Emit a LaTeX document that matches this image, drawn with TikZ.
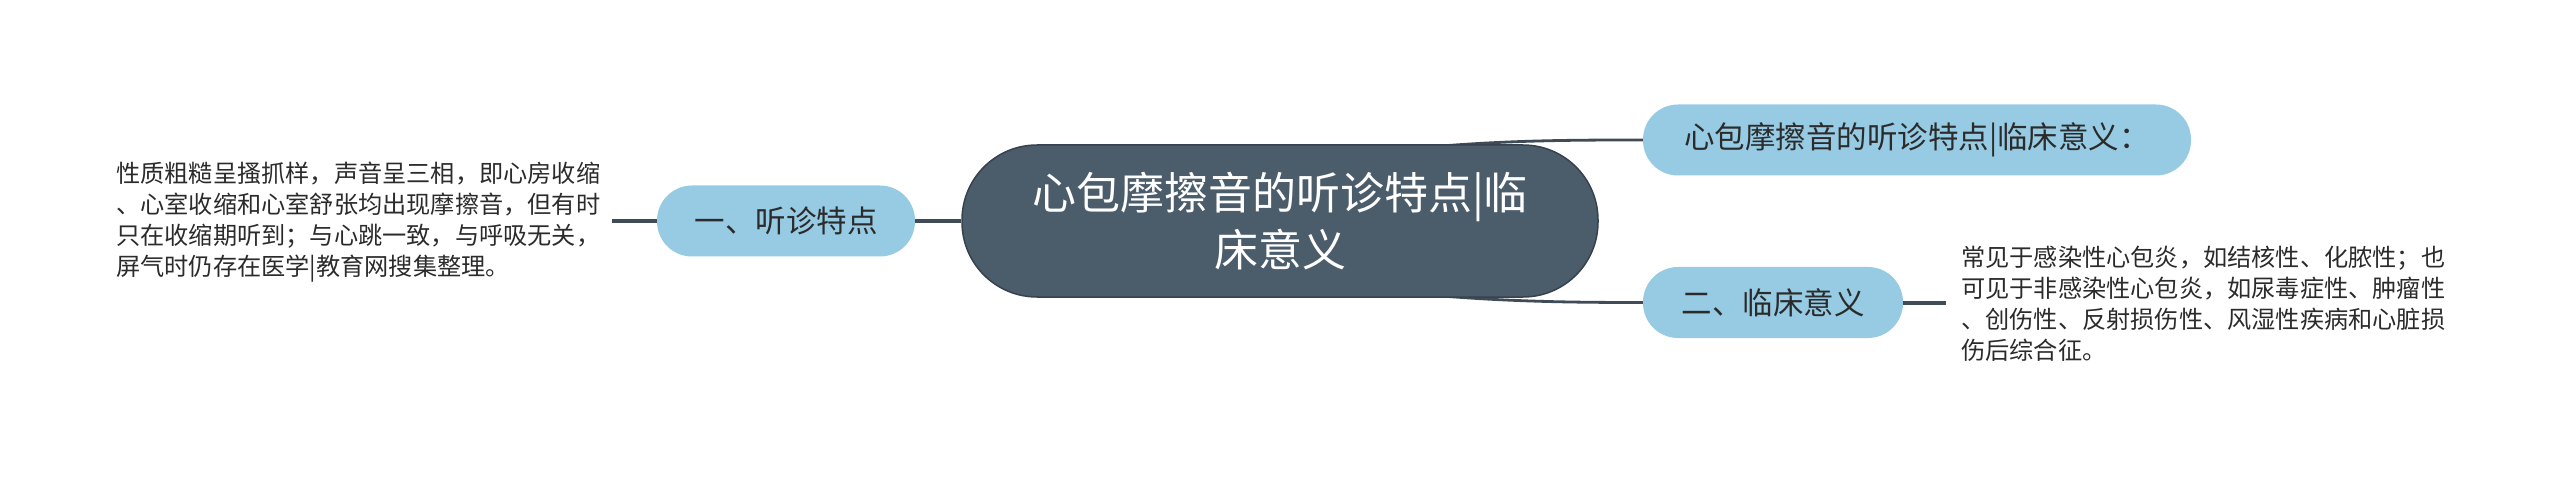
\documentclass[tikz,border=0pt]{standalone}
\usepackage{fontspec}
\setmainfont{Noto Sans CJK SC}
\usetikzlibrary{backgrounds}
\definecolor{hub}{HTML}{4B5C6B}
\definecolor{hubline}{HTML}{37424E}
\definecolor{leaf}{HTML}{96CBE3}
\definecolor{wirec}{HTML}{3F4B57}
\definecolor{ink}{HTML}{2B2B2B}
\begin{document}
\begin{tikzpicture}[x=1pt,y=-1pt,
  hubnode/.style={fill=hub, draw=hubline, line width=1.5pt, rounded corners=75pt,
    minimum width=636pt, minimum height=152pt, text=white,
    font=\fontsize{44}{57}\selectfont, align=center, inner sep=0pt},
  leafnode/.style={fill=leaf, rounded corners=35pt, minimum height=71pt,
    text=ink, font=\fontsize{30.5}{36}\selectfont, inner sep=0pt},
  notetext/.style={text=ink, font=\fontsize{24.2}{31}\selectfont, align=left,
    inner sep=0pt, anchor=west},
  wire/.style={draw=wirec, line width=4pt},
  curvewire/.style={draw=wirec, line width=2.8pt}]
\useasboundingbox (0,0) rectangle (2560,481);

\node[leafnode, minimum width=258pt] (n1) at (786,221) {一、听诊特点};
\node[leafnode, minimum width=548pt] (top) at (1917,140) {心包摩擦音的听诊特点|临床意义：};
\node[leafnode, minimum width=260pt] (n2) at (1773,302.5) {二、临床意义};

\node[notetext] (lt) at (116,222) {性质粗糙呈搔抓样，声音呈三相，即心房收缩\\、心室收缩和心室舒张均出现摩擦音，但有时\\只在收缩期听到；与心跳一致，与呼吸无关，\\屏气时仍存在医学|教育网搜集整理。};
\node[notetext] (rt) at (1961,304) {常见于感染性心包炎，如结核性、化脓性；也\\可见于非感染性心包炎，如尿毒症性、肿瘤性\\、创伤性、反射损伤性、风湿性疾病和心脏损\\伤后综合征。};

\coordinate (ltend) at (612,221);
\coordinate (rtend) at (1946,302.5);
\coordinate (ctop) at (1430,147);
\coordinate (cbot) at (1430,295);

\draw[curvewire] (ctop) .. controls (1510,140) and (1580,140) .. (top.west);
\draw[curvewire] (cbot) .. controls (1510,302) and (1580,302.5) .. (n2.west);

\node[hubnode] (hub) at (1280,221) {心包摩擦音的听诊特点|临\\床意义};

\draw[wire] (ltend) -- (n1.west);
\draw[wire] (n1.east) -- (hub.west);
\draw[wire] (n2.east) -- (rtend);
\end{tikzpicture}
\end{document}
